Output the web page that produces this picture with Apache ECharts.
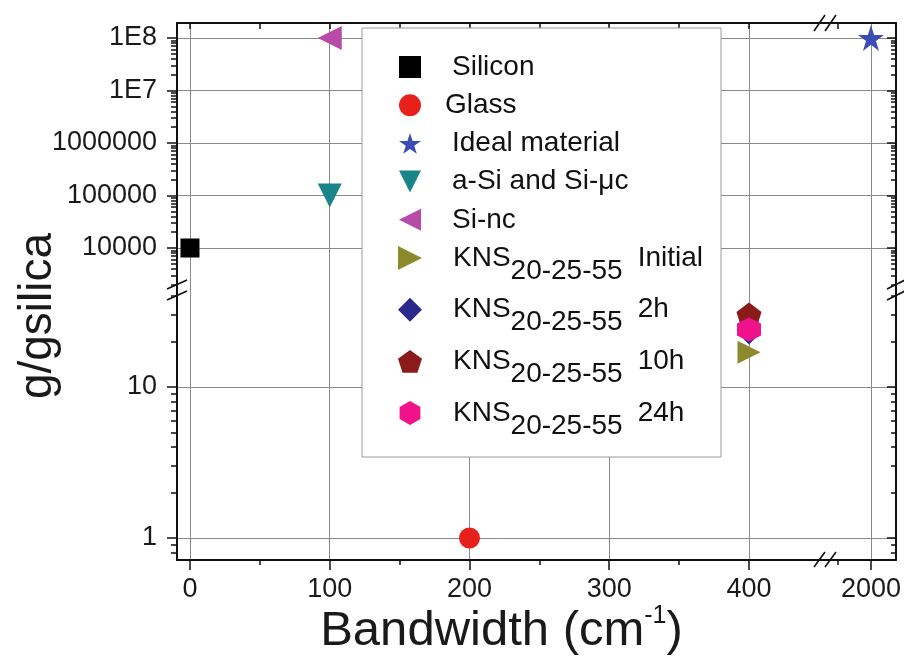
<!DOCTYPE html>
<html><head><meta charset="utf-8">
<script src="https://cdn.jsdelivr.net/npm/echarts@6/dist/echarts.min.js"></script>
<style>html,body{margin:0;padding:0;background:#fff}#c{width:904px;height:666px}</style>
</head><body><div id="c"></div>
<script>
// ---------------- data ----------------
const seriesNames = ['Silicon', 'Glass', 'Ideal material', 'a-Si and Si-\u03bcc', 'Si-nc',
  'KNS20-25-55 Initial', 'KNS20-25-55 2h', 'KNS20-25-55 10h', 'KNS20-25-55 24h'];
const silicon = [[0, 10000]];
const glass = [[200, 1]];
const idealMaterial = [[2000, 1e8]];
const aSiSiMuc = [[100, 100000]];
const siNc = [[100, 1e8]];
const knsInitial = [[400, 17]];
const kns2h = [[400, 23]];
const kns10h = [[400, 30]];
const kns24h = [[400, 24]];
const xTicksLeft = [0, 100, 200, 300, 400];
const xTicksRight = [2000];
const yTicksLower = [1, 10];
const yTicksUpper = [10000, 100000, 1000000, 1e7, 1e8];

// ---------------- layout ----------------
const FONT = 'Liberation Sans, Arial, Helvetica, sans-serif';
const XL = 177, XB = 826, XR = 896;      // plot left, x-break, plot right
const YT = 23, YB = 290, YBOT = 560;     // plot top, y-break, plot bottom
const xLeftRange = [-9.3, 455.1];
const xRightRange = [1967.8, 2017.9];
const yLowerRange = [0.7149, 43.9];
const yUpperRange = [1585, 1.93e8];
const AX = '#111', GRIDC = '#8a8a8a';

function logMinor(lo, hi) {
  const out = [];
  for (let d = -2; d <= 9; d++) for (let m = 2; m <= 9; m++) {
    const v = m * Math.pow(10, d);
    if (v > lo && v < hi) out.push(+v.toPrecision(6));
  }
  return out;
}
const xMinorLeft = [50, 150, 250, 350];
const xTopTicks = [0, 50, 100, 150, 200, 250, 300, 350, 400];

function axis(type, grid, pos, range) {
  const a = {
    type, gridIndex: grid, position: pos, min: range[0], max: range[1],
    axisLine: { show: false, onZero: false, lineStyle: { color: AX, width: 2 } },
    axisTick: { show: false }, axisLabel: { show: false },
    splitLine: { show: false, lineStyle: { color: GRIDC, width: 1 } },
    minorTick: { show: false }, minorSplitLine: { show: false }, z: 3
  };
  if (type === 'log') a.logBase = 10;
  return a;
}
function ticks(a, values, len, inside, showSplit) {
  a.axisTick = { show: len > 0, customValues: values, length: len, inside: inside,
    lineStyle: { color: AX, width: 1.5 } };
  if (showSplit) a.splitLine.show = true;
  return a;
}
function labels(a, values, margin, formatter) {
  a.axisLabel = { show: true, customValues: values, margin: margin, fontSize: 27,
    fontFamily: FONT, color: '#1a1a1a', formatter: formatter || (v => String(Math.round(v))) };
  return a;
}

// ---- x axes ----
const x0 = labels(ticks(axis('value', 0, 'bottom', xLeftRange), xTicksLeft, 10, false, true), xTicksLeft, 16);
x0.axisLine.show = true;
x0.name = '{a|Bandwidth (cm}{s|-1}{a|)}';
x0.nameLocation = 'middle';
x0.nameGap = 38;
x0.nameTextStyle = { rich: {
  a: { fontSize: 49, fontFamily: FONT, color: '#1a1a1a' },
  s: { fontSize: 25, fontFamily: FONT, color: '#1a1a1a', padding: [0, 0, 30, 0], lineHeight: 49 }
} };
const x1 = ticks(axis('value', 0, 'bottom', xLeftRange), xMinorLeft, 5, false, false);
const x2 = ticks(axis('value', 1, 'top', xLeftRange), xTopTicks, 6, true, false);
x2.axisLine.show = true;
const x3 = ticks(axis('value', 1, 'bottom', xLeftRange), xTicksLeft, 0, false, true);
const x4 = labels(ticks(axis('value', 2, 'bottom', xRightRange), xTicksRight, 10, false, true), xTicksRight, 16);
x4.axisLine.show = true;
const x5 = ticks(axis('value', 3, 'top', xRightRange), [1976.4], 6, true, false);
x5.axisLine.show = true;
const x6 = ticks(axis('value', 3, 'bottom', xRightRange), xTicksRight, 0, false, true);
const x7 = ticks(axis('value', 2, 'bottom', xRightRange), [1976.4], 5, false, false);

// ---- y axes ----
const upperFmt = v => v >= 1e7 ? '1E' + Math.round(Math.log10(v)) : String(Math.round(v));
const y0 = labels(ticks(axis('log', 0, 'left', yLowerRange), yTicksLower, 10, false, true), yTicksLower, 20);
y0.axisLine.show = true;
const y1 = ticks(axis('log', 0, 'left', yLowerRange), logMinor(yLowerRange[0], yLowerRange[1]), 6, false, false);
const y2 = labels(ticks(axis('log', 1, 'left', yUpperRange), yTicksUpper, 10, false, true), yTicksUpper, 20, upperFmt);
y2.axisLine.show = true;
const y3 = ticks(axis('log', 1, 'left', yUpperRange), logMinor(yUpperRange[0], yUpperRange[1]), 6, false, false);
const y4 = ticks(axis('log', 2, 'right', yLowerRange), yTicksLower, 9, true, true);
y4.axisLine.show = true;
const y5 = ticks(axis('log', 2, 'right', yLowerRange), logMinor(yLowerRange[0], yLowerRange[1]), 5, true, false);
const y6 = ticks(axis('log', 3, 'right', yUpperRange), yTicksUpper, 9, true, true);
y6.axisLine.show = true;
const y7 = ticks(axis('log', 3, 'right', yUpperRange), logMinor(yUpperRange[0], yUpperRange[1]), 5, true, false);

// ---- symbols ----
const STAR = 'path://M50,0 L61.23,34.55 L97.55,34.55 L68.17,55.9 L79.39,90.45 L50,69.1 L20.61,90.45 L31.83,55.9 L2.45,34.55 L38.77,34.55 Z';
const PENTA = 'path://M50,0 L97.55,34.55 L79.39,90.45 L20.61,90.45 L2.45,34.55 Z';
const HEXA = 'path://M50,0 L93.3,25 L93.3,75 L50,100 L6.7,75 L6.7,25 Z';
const TRI_DOWN = 'path://M0,0 L100,0 L50,100 Z';
const TRI_LEFT = 'path://M100,0 L100,100 L0,50 Z';
const TRI_RIGHT = 'path://M0,0 L100,50 L0,100 Z';
const DIAMOND = 'path://M50,0 L100,50 L50,100 L0,50 Z';

function sc(name, data, xi, yi, symbol, size, color) {
  return { type: 'scatter', name, data, xAxisIndex: xi, yAxisIndex: yi, symbol,
    symbolSize: size, itemStyle: { color: color, opacity: 1 },
    emphasis: { disabled: true }, z: 5, clip: false };
}
const series = [
  sc(seriesNames[0], silicon, 3, 2, 'rect', 19, '#000000'),
  sc(seriesNames[1], glass, 0, 0, 'circle', 21, '#e8201c'),
  sc(seriesNames[2], idealMaterial, 6, 6, STAR, 26, '#3b4cb4'),
  sc(seriesNames[3], aSiSiMuc, 3, 2, TRI_DOWN, 24, '#17858a'),
  sc(seriesNames[4], siNc, 3, 2, TRI_LEFT, 24, '#b84aa8'),
  sc(seriesNames[5], knsInitial, 0, 0, TRI_RIGHT, 23, '#8c8a2c'),
  sc(seriesNames[6], kns2h, 0, 0, DIAMOND, 24, '#2b2a8c'),
  sc(seriesNames[7], kns10h, 0, 0, PENTA, 25, '#8b1a1a'),
  sc(seriesNames[8], kns24h, 0, 0, HEXA, 24, '#f0128a')
];

const legendRich = {
  p: { fontSize: 28, fontFamily: FONT, color: '#111', padding: [0, 0, 0, 26] },
  g: { fontSize: 28, fontFamily: FONT, color: '#111', padding: [0, 0, 0, 19] },
  b: { fontSize: 28, fontFamily: FONT, color: '#111', padding: [26, 0, 0, 0], lineHeight: 28 },
  t: { fontSize: 28, fontFamily: FONT, color: '#111', padding: [0, 0, 0, 15] }
};
function legendFmt(name) {
  if (name.indexOf('KNS20-25-55 ') === 0) {
    return '{p|KNS}{b|20-25-55}{t|' + name.slice(12) + '}';
  }
  if (name === 'Glass') return '{g|Glass}';
  return '{p|' + name + '}';
}
function legend(names, top, gap, size) {
  return { data: names, orient: 'vertical', left: 410 - size / 2, top: top, itemGap: gap, padding: 0,
    itemWidth: size, itemHeight: size, selectedMode: false, z: 10, formatter: legendFmt,
    textStyle: { fontSize: 28, fontFamily: FONT, color: '#111', rich: legendRich } };
}

function brk(x1, y1, x2, y2) {
  return { type: 'line', z: 30, shape: { x1, y1, x2, y2 }, style: { stroke: AX, lineWidth: 1.6 } };
}

const option = {
  animation: false,
  backgroundColor: '#ffffff',
  grid: [
    { left: XL, width: XB - XL, top: YB, height: YBOT - YB, outerBoundsMode: 'none' },
    { left: XL, width: XB - XL, top: YT, height: YB - YT, outerBoundsMode: 'none' },
    { left: XB, width: XR - XB, top: YB, height: YBOT - YB, outerBoundsMode: 'none' },
    { left: XB, width: XR - XB, top: YT, height: YB - YT, outerBoundsMode: 'none' }
  ],
  xAxis: [x0, x1, x2, x3, x4, x5, x6, x7],
  yAxis: [y0, y1, y2, y3, y4, y5, y6, y7],
  legend: [legend(seriesNames.slice(0, 5), 53, 10.2, 22), legend(seriesNames.slice(5), 231, -2.3, 24)],
  series: series,
  graphic: { z: 5, elements: [
    { type: 'rect', z: 5, shape: { x: 362, y: 28, width: 359, height: 429 },
      style: { fill: '#ffffff', stroke: '#9a9a9a', lineWidth: 1 } },
    { type: 'text', z: 5, x: 38, y: 316, rotation: Math.PI / 2,
      style: { text: 'g/gsilica', font: '46px ' + FONT, fill: '#1a1a1a', align: 'center', verticalAlign: 'middle' } },
    // y-axis break marks (left and right)
    brk(XL - 10, YB - 1, XL + 10, YB - 10), brk(XL - 10, YB + 10, XL + 10, YB + 1),
    brk(XR - 9, YB - 1, XR + 9, YB - 10), brk(XR - 9, YB + 10, XR + 9, YB + 1),
    // x-axis break marks (bottom and top)
    brk(XB - 12, YBOT + 7, XB - 1, YBOT - 8), brk(XB - 1, YBOT + 7, XB + 10, YBOT - 8),
    brk(XB - 12, YT + 8, XB - 1, YT - 8), brk(XB - 1, YT + 8, XB + 10, YT - 8)
  ] }
};
const chart = echarts.init(document.getElementById('c'), null, { renderer: 'canvas' });
chart.setOption(option);
</script></body></html>
